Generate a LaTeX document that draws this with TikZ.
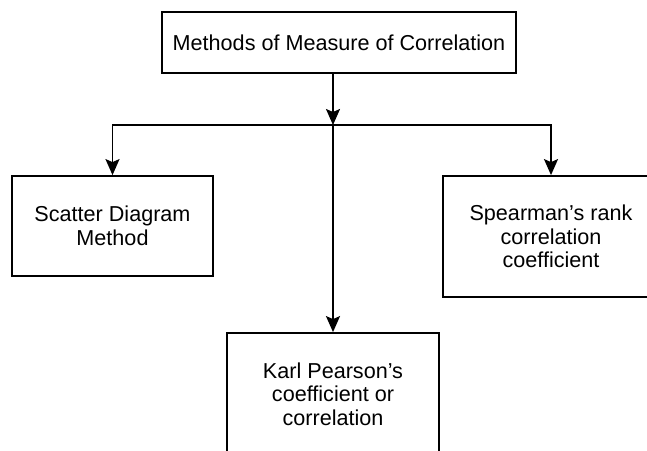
\documentclass[tikz,border=0pt]{standalone}
\usepackage{fontspec}
\setmainfont{Liberation Sans}
\usetikzlibrary{arrows.meta}

\begin{document}
\begin{tikzpicture}[x=1pt, y=-1pt,
  methodbox/.style={draw, line width=1.8pt, inner sep=0pt, align=center,
    font=\fontsize{21.6}{23.5}\selectfont},
  link/.style={line width=1.8pt, -{Stealth[length=16pt, width=14pt, inset=3pt]}}
  ]
  \useasboundingbox (0,0) rectangle (647,450);
  \clip (0,0) rectangle (647,450);

  \node[methodbox, minimum width=354pt, minimum height=61pt] (top) at (339,42.5)
    {Methods of Measure of Correlation};
  \node[methodbox, minimum width=201pt, minimum height=100pt] (scatter) at (112.5,226)
    {Scatter Diagram\\Method};
  \node[methodbox, minimum width=216pt, minimum height=121pt] (spear) at (551,236.5)
    {Spearman’s rank\\correlation\\coefficient};
  \node[methodbox, minimum width=212pt, minimum height=122pt] (pearson) at (333,394)
    {Karl Pearson’s\\coefficient or\\correlation};

  % branching point below the top box
  \coordinate (split) at (333,125);
  \draw[link] (top.south -| split) -- (split);
  \draw[link] (split) -| (scatter.north);
  \draw[link] (split) -| (spear.north);
  \draw[link] (split) -- (pearson.north);
\end{tikzpicture}
\end{document}
